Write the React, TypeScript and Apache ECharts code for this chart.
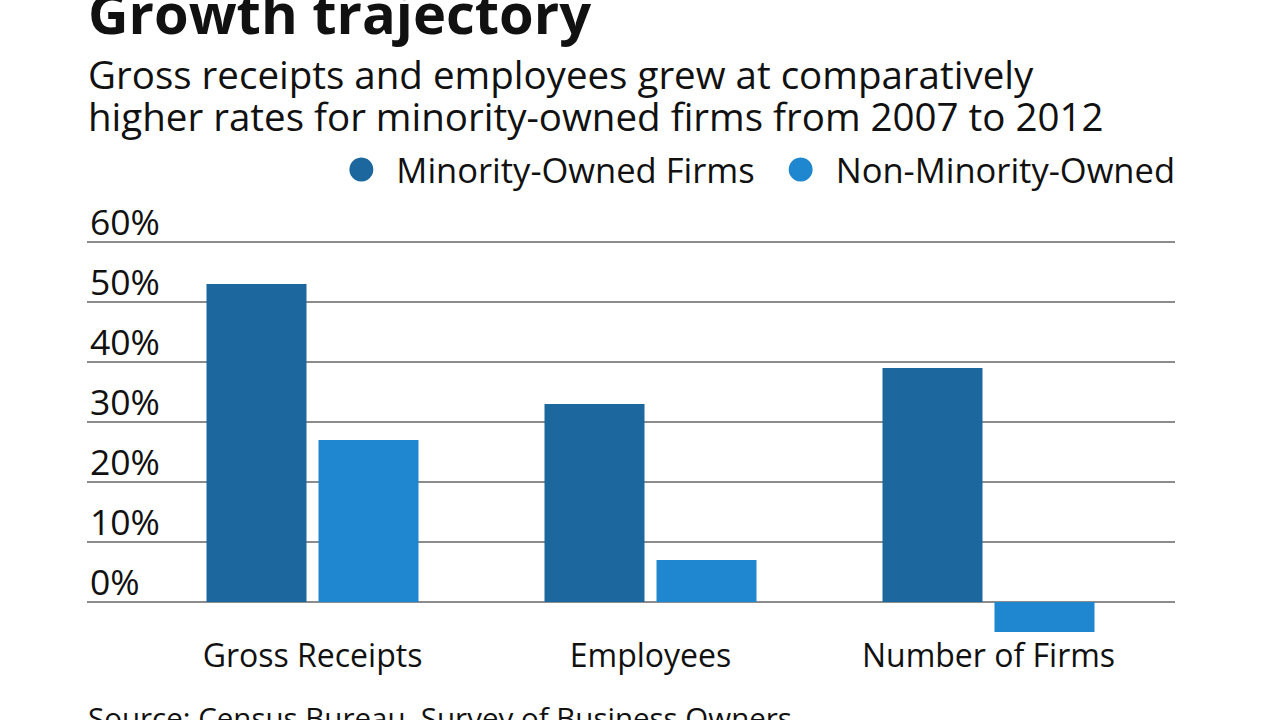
import React, { useEffect, useRef } from "react";
import * as echarts from "echarts";

const categories = ["Gross Receipts", "Employees", "Number of Firms"];
const minorityOwned = [53, 33, 39];
const nonMinorityOwned = [27, 7, -5];
const seriesNames = ["Minority-Owned Firms", "Non-Minority-Owned"];
const colors = ["#1b679e", "#1e87d0"];
const titleText = "Growth trajectory";
const subtitleLines = [
  "Gross receipts and employees grew at comparatively",
  "higher rates for minority-owned firms from 2007 to 2012",
];
const sourceText = "Source: Census Bureau, Survey of Business Owners";

const FONT = "'Open Sans'";

export default function App() {
  const ref = useRef<HTMLDivElement>(null);

  useEffect(() => {
    if (!ref.current) return;
    const chart = echarts.init(ref.current, undefined, { renderer: "svg" });
    const top = 242;
    const bottom = 720 - 602;
    chart.setOption({
      animation: false,
      backgroundColor: "#ffffff",
      textStyle: { fontFamily: FONT },
      graphic: [
        {
          type: "text",
          left: 88,
          top: -16,
          style: {
            text: titleText,
            font: `bold 56px ${FONT}`,
            fill: "#111111",
          },
        },
        {
          type: "text",
          left: 88,
          top: 53,
          style: {
            text: subtitleLines[0],
            font: `38.5px ${FONT}`,
            lineHeight: 41,
            verticalAlign: "top",
            fill: "#111111",
          },
        },
        {
          type: "text",
          left: 88,
          top: 95,
          style: {
            text: subtitleLines[1],
            font: `38.5px ${FONT}`,
            lineHeight: 41,
            verticalAlign: "top",
            fill: "#111111",
          },
        },
        {
          type: "text",
          left: 88,
          top: 702,
          style: {
            text: sourceText,
            font: `29.5px ${FONT}`,
            fill: "#111111",
          },
        },
      ],
      legend: {
        top: 147,
        right: 100,
        itemWidth: 24,
        itemHeight: 24,
        itemGap: 34,
        icon: "circle",
        textStyle: { fontSize: 34.5, color: "#111111", fontFamily: FONT, padding: [0, 0, 0, 18] },
        data: seriesNames,
      },
      grid: [
        { left: 87, right: 105, top, bottom },
        { left: 143.5, right: 122.5, top, bottom },
      ],
      xAxis: [
        {
          gridIndex: 0,
          type: "category",
          data: categories,
          show: false,
        },
        {
          gridIndex: 1,
          type: "category",
          data: categories,
          axisLine: { show: false },
          axisTick: { show: false },
          axisLabel: {
            fontSize: 32,
            color: "#111111",
            fontFamily: FONT,
            margin: 36,
          },
        },
      ],
      yAxis: [
        {
          gridIndex: 0,
          type: "value",
          min: 0,
          max: 60,
          interval: 10,
          axisLine: { show: false },
          axisTick: { show: false },
          splitLine: { lineStyle: { color: "#666666", width: 1.5 } },
          axisLabel: {
            inside: true,
            margin: 3,
            fontSize: 35.5,
            color: "#111111",
            fontFamily: FONT,
            verticalAlign: "bottom",
            padding: [0, 0, 3, 0],
            formatter: (v: number) => `${v}%`,
          },
        },
        {
          gridIndex: 1,
          type: "value",
          min: 0,
          max: 60,
          interval: 10,
          show: false,
          splitLine: { show: false },
        },
      ],
      series: [
        {
          name: seriesNames[0],
          type: "bar",
          xAxisIndex: 1,
          yAxisIndex: 1,
          data: minorityOwned,
          barWidth: 100,
          barGap: "12%",
          clip: false,
          itemStyle: { color: colors[0] },
        },
        {
          name: seriesNames[1],
          type: "bar",
          xAxisIndex: 1,
          yAxisIndex: 1,
          data: nonMinorityOwned,
          barWidth: 100,
          barGap: "12%",
          clip: false,
          itemStyle: { color: colors[1] },
        },
      ],
    });
    return () => chart.dispose();
  }, []);

  return <div ref={ref} style={{ width: 1280, height: 720, position: "absolute", left: 0, top: 0 }} />;
}
